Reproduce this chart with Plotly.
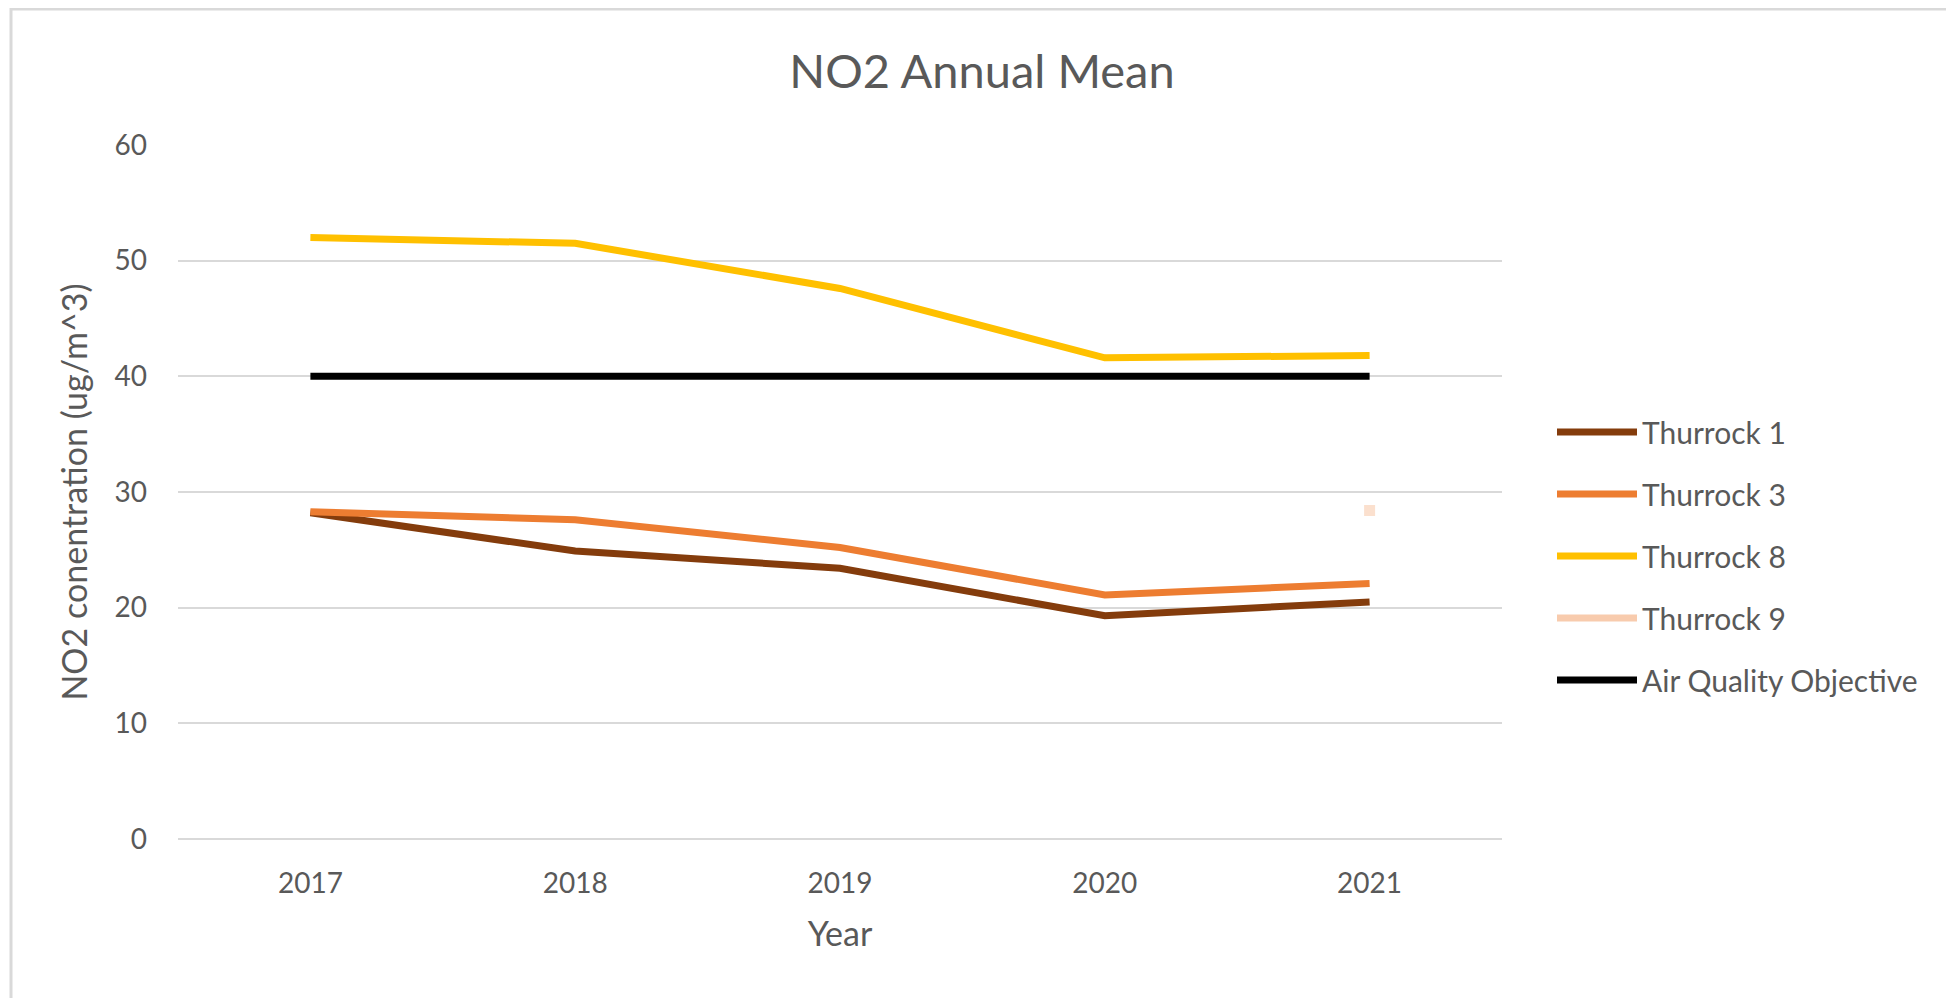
import plotly.graph_objects as go

FONT = "Lato, 'Open Sans', sans-serif"
TEXT_GREY = "#595959"
GRID_GREY = "#d9d9d9"

years = ["2017", "2018", "2019", "2020", "2021"]
thurrock_1 = [28.2, 24.9, 23.4, 19.3, 20.5]
thurrock_3 = [28.3, 27.6, 25.2, 21.1, 22.1]
thurrock_8 = [52.0, 51.5, 47.6, 41.6, 41.8]
thurrock_9 = [None, None, None, None, 28.4]
air_quality_objective = [40, 40, 40, 40, 40]

series = [
    ("Thurrock 1", thurrock_1, "#843c0c"),
    ("Thurrock 3", thurrock_3, "#ed7d31"),
    ("Thurrock 8", thurrock_8, "#ffc000"),
    ("Thurrock 9", thurrock_9, "#f8cbad"),
    ("Air Quality Objective", air_quality_objective, "#000000"),
]

# the page body adds an 8px offset, so layout pixel values are shifted back by 8
W, H = 1954, 998
PLOT_L, PLOT_R, PLOT_T, PLOT_B = 170, 1494, 137, 831

fig = go.Figure()
for i, (name, values, color) in enumerate(series):
    fig.add_trace(
        go.Scatter(
            x=years,
            y=values,
            name=name,
            mode="lines",
            line={"color": color, "width": 7},
            legendgroup=f"g{i}",
            hoverinfo="x+y+name",
        )
    )

# single-point series: Excel shows it as a small square
fig.add_trace(
    go.Scatter(
        x=years,
        y=thurrock_9,
        mode="markers",
        marker={"symbol": "square", "size": 11, "color": "rgba(248,203,173,0.6)"},
        showlegend=False,
        hoverinfo="x+y",
        name="Thurrock 9",
    )
)

pw = PLOT_R - PLOT_L
ph = PLOT_B - PLOT_T

fig.update_layout(
    width=W,
    height=H,
    paper_bgcolor="white",
    plot_bgcolor="white",
    font={"family": FONT, "color": TEXT_GREY, "size": 28},
    margin={"l": PLOT_L, "r": W - PLOT_R, "t": PLOT_T, "b": H - PLOT_B, "autoexpand": False},
    title={
        "text": "NO2 Annual Mean",
        "font": {"size": 47, "color": TEXT_GREY},
        "x": 974 / W,
        "xanchor": "center",
        "xref": "container",
        "y": 1 - 64 / H,
        "yanchor": "middle",
        "yref": "container",
    },
    legend={
        "xref": "container",
        "yref": "container",
        "x": 1544 / W,
        "xanchor": "left",
        "y": 1 - 398 / H,
        "yanchor": "top",
        "itemwidth": 80,
        "tracegroupgap": 20,
        "font": {"size": 30, "color": TEXT_GREY},
        "bgcolor": "rgba(0,0,0,0)",
    },
    shapes=[
        {
            "type": "rect",
            "xref": "paper",
            "yref": "paper",
            "x0": (3 - PLOT_L) / pw,
            "x1": (1944 - PLOT_L) / pw,
            "y0": -0.4,
            "y1": (PLOT_B - 1) / ph,
            "line": {"color": GRID_GREY, "width": 3},
            "layer": "below",
        }
    ],
)
fig.update_xaxes(
    type="category",
    range=[-0.5, 4.5],
    showgrid=False,
    showline=False,
    ticks="",
    ticklabelstandoff=25,
    title={"text": "Year", "font": {"size": 34}, "standoff": 24},
)
fig.update_yaxes(
    range=[0, 60],
    dtick=10,
    showgrid=True,
    gridcolor=GRID_GREY,
    gridwidth=2,
    zeroline=True,
    zerolinecolor=GRID_GREY,
    zerolinewidth=2,
    showline=False,
    ticks="",
    ticklabelstandoff=30,
    title={"text": "NO2 conentration (ug/m^3)", "font": {"size": 34}, "standoff": 16},
)

fig.write_html("out.html")
